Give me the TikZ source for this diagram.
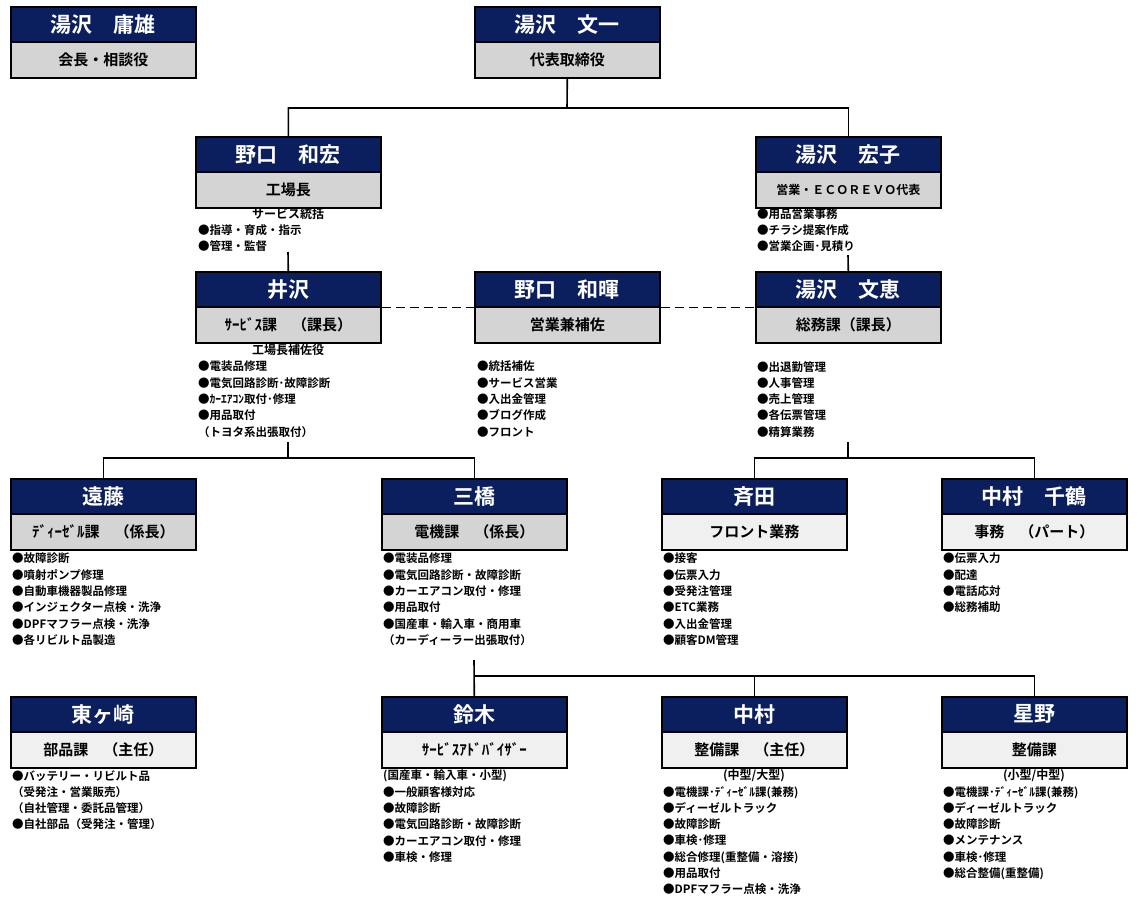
\documentclass[tikz,border=0pt]{standalone}
\usepackage{fontspec}
\setmainfont{Noto Sans CJK JP Bold}
\begin{document}
\begin{tikzpicture}[x=1pt,y=-1pt,
  hd/.style={draw=black,line width=1.6pt,fill=navy,text=white,minimum width=185pt,minimum height=35pt,inner sep=0pt,font=\fontsize{21}{24}\selectfont,anchor=north west},
  bd/.style={draw=black,line width=1.6pt,minimum width=185pt,minimum height=36pt,inner sep=0pt,font=\fontsize{15}{18}\selectfont,anchor=north west},
  lst/.style={align=left,anchor=north west,inner sep=0pt,font=\fontsize{11.5}{16.3}\selectfont},
  ttl/.style={anchor=north,inner sep=0pt,font=\fontsize{12}{16}\selectfont},
  ln/.style={line width=1.6pt}]
\definecolor{navy}{HTML}{0B1F5E}
\definecolor{gr}{HTML}{D4D4D4}
\definecolor{lg}{HTML}{F0F0F0}
\useasboundingbox (0,0) rectangle (1140,900);
\newcommand{\pb}[6]{%
  \node[bd,fill=#6] (#1b) at (#2,#3+35) {#5};
  \node[hd] (#1) at (#2,#3) {#4};}
\pb{yuzawaT}{10}{6}{湯沢\hspace{1em}庸雄}{会長・相談役}{gr}
\pb{bun}{474}{6}{湯沢\hspace{1em}文一}{代表取締役}{gr}
\pb{nogK}{195}{136}{野口\hspace{1em}和宏}{工場長}{gr}
\pb{hiro}{755}{136}{湯沢\hspace{1em}宏子}{\fontsize{12}{14}\selectfont 営業・ＥＣＯＲＥＶＯ代表}{gr}
\pb{izawa}{195}{271}{井沢}{ｻｰﾋﾞｽ課\hspace{1em}（課長）}{gr}
\pb{nogT}{474}{271}{野口\hspace{1em}和暉}{営業兼補佐}{gr}
\pb{fumi}{755}{271}{湯沢\hspace{1em}文恵}{総務課（課長）}{gr}
\pb{endo}{10}{478}{遠藤}{ﾃﾞｨｰｾﾞﾙ課\hspace{1em}（係長）}{gr}
\pb{mitsu}{381}{478}{三橋}{電機課\hspace{1em}（係長）}{gr}
\pb{saita}{661}{478}{斉田}{フロント業務}{lg}
\pb{chizu}{941}{478}{中村\hspace{1em}千鶴}{事務\hspace{1em}（パート）}{lg}
\pb{higa}{10}{696}{東ヶ崎}{部品課\hspace{1em}（主任）}{lg}
\pb{suzu}{381}{696}{鈴木}{ｻｰﾋﾞｽｱﾄﾞﾊﾞｲｻﾞｰ}{lg}
\pb{naka}{661}{696}{中村}{整備課\hspace{1em}（主任）}{lg}
\pb{hoshi}{941}{696}{星野}{整備課}{lg}
% lists
\node[ttl] (t1) at (288,208) {サービス統括};
\node[lst] (l1) at (198,224) {●指導・育成・指示\\●管理・監督};
\node[lst] (l2) at (757,208) {●用品営業事務\\●チラシ提案作成\\●営業企画･見積り};
\node[ttl] (t3) at (288,344) {工場長補佐役};
\node[lst] (l3) at (198,361) {●電装品修理\\●電気回路診断･故障診断\\●ｶｰｴｱｺﾝ取付･修理\\●用品取付\\（トヨタ系出張取付）};
\node[lst] (l4) at (477,361) {●統括補佐\\●サービス営業\\●入出金管理\\●ブログ作成\\●フロント};
\node[lst] (l5) at (757,361) {●出退勤管理\\●人事管理\\●売上管理\\●各伝票管理\\●精算業務};
\node[lst] (l6) at (12,553) {●故障診断\\●噴射ポンプ修理\\●自動車機器製品修理\\●インジェクター点検・洗浄\\●DPFマフラー点検・洗浄\\●各リビルト品製造};
\node[lst] (l7) at (383,553) {●電装品修理\\●電気回路診断・故障診断\\●カーエアコン取付・修理\\●用品取付\\●国産車・輸入車・商用車\\（カーディーラー出張取付）};
\node[lst] (l8) at (663,553) {●接客\\●伝票入力\\●受発注管理\\●ETC業務\\●入出金管理\\●顧客DM管理};
\node[lst] (l9) at (943,553) {●伝票入力\\●配達\\●電話応対\\●総務補助};
\node[lst] (l10) at (12,770) {●バッテリー・リビルト品\\（受発注・営業販売）\\（自社管理・委託品管理）\\●自社部品（受発注・管理）};
\node[lst] (l11) at (383,770) {(国産車・輸入車・小型)\\●一般顧客様対応\\●故障診断\\●電気回路診断・故障診断\\●カーエアコン取付・修理\\●車検・修理};
\node[ttl] (t12) at (754,769) {(中型/大型)};
\node[lst] (l12) at (663,786) {●電機課･ﾃﾞｨｰｾﾞﾙ課(兼務)\\●ディーゼルトラック\\●故障診断\\●車検･修理\\●総合修理(重整備・溶接)\\●用品取付\\●DPFマフラー点検・洗浄};
\node[ttl] (t13) at (1034,769) {(小型/中型)};
\node[lst] (l13) at (943,786) {●電機課･ﾃﾞｨｰｾﾞﾙ課(兼務)\\●ディーゼルトラック\\●故障診断\\●メンテナンス\\●車検･修理\\●総合整備(重整備)};
% connectors
\coordinate (j1) at (567,108);
\draw[ln] (bunb.south) -- (j1) -| (nogK.north);
\draw[ln] (j1) -| (hiro.north);
\coordinate (c1) at (288,252); \draw[ln] (c1) -- (izawa.north);
\coordinate (c2) at (848,255); \draw[ln] (c2) -- (fumi.north);
\draw[ln,dashed,dash pattern=on 9pt off 5pt] (izawa.south east) -- (nogT.south west);
\draw[ln,dashed,dash pattern=on 9pt off 5pt] (nogT.south east) -- (fumi.south west);
\coordinate (c3) at (288,442); \coordinate (j3) at (288,458);
\draw[ln] (c3) -- (j3); \draw[ln] (endo.north) |- (j3) -| (mitsu.north);
\coordinate (c4) at (848,442); \coordinate (j4) at (848,458);
\draw[ln] (c4) -- (j4); \draw[ln] (saita.north) |- (j4) -| (chizu.north);
\coordinate (c5) at (474,660); \coordinate (j5) at (474,676);
\draw[ln] (c5) -- (suzu.north);
\draw[ln] (j5) -| (naka.north); \draw[ln] (j5) -| (hoshi.north);
\end{tikzpicture}
\end{document}
